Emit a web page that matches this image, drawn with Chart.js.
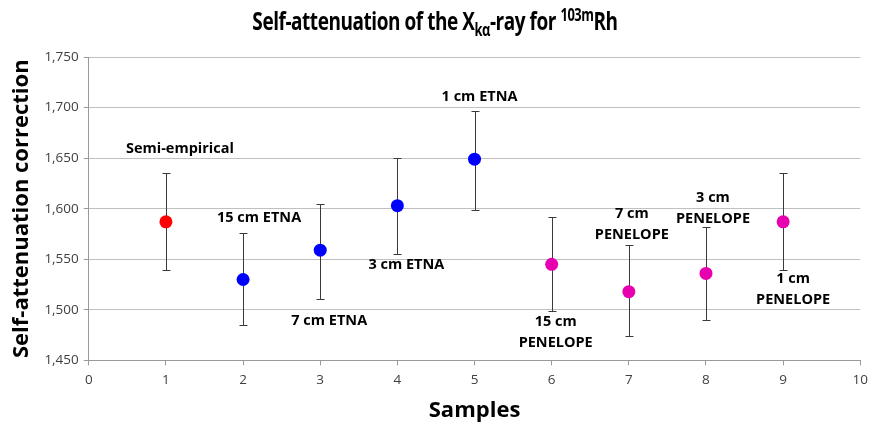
<!DOCTYPE html>
<html>
<head>
<meta charset="utf-8">
<script src="https://cdn.jsdelivr.net/npm/chart.js@4.4.0/dist/chart.umd.min.js"></script>
<style>
  html, body { margin: 0; padding: 0; background: #fff; overflow: hidden; }
  #wrap { position: relative; width: 870px; height: 427px; overflow: hidden; }
  #title {
    position: absolute; left: 0; top: 3px; width: 870px; text-align: center;
    font-family: "Open Sans", sans-serif; font-weight: bold; font-size: 25px; color: #000;
    letter-spacing: -0.6px; transform: scaleX(0.76); transform-origin: 435px 0;
  }
  #title sub, #title sup { font-size: 17px; }
  canvas { position: absolute; left: 0; top: 0; }
</style>
</head>
<body>
<div id="wrap">
  <canvas id="chart" width="875" height="427"></canvas>
  <div id="title">Self-attenuation of the X<sub>kα</sub>-ray for <sup>103m</sup>Rh</div>
</div>
<script>
// Dados
const samples = [1, 2, 3, 4, 5, 6, 7, 8, 9];
const corrections = [1.587, 1.530, 1.559, 1.603, 1.649, 1.545, 1.518, 1.536, 1.587];
const errUpper = [1.635, 1.576, 1.605, 1.650, 1.697, 1.592, 1.564, 1.582, 1.635];
const errLower = [1.539, 1.485, 1.511, 1.555, 1.599, 1.499, 1.474, 1.490, 1.539];
const methods = ['semi', 'etna', 'etna', 'etna', 'etna', 'penelope', 'penelope', 'penelope', 'penelope'];
const pointLabels = [
    ['Semi-empirical'],
    ['15 cm ETNA'],
    ['7 cm ETNA'],
    ['3 cm ETNA'],
    ['1 cm ETNA'],
    ['15 cm', 'PENELOPE'],
    ['7 cm', 'PENELOPE'],
    ['3 cm', 'PENELOPE'],
    ['1 cm', 'PENELOPE']
];
const yTicks = [1.45, 1.50, 1.55, 1.60, 1.65, 1.70, 1.75];

// Cores por método
const methodColors = { semi: '#ff0000', etna: '#0000ff', penelope: '#e600b0' };

// Posição dos rótulos em relação ao ponto (px): [dx, dy da primeira linha]
const labelOffsets = [
    [14, -73], [16, -62], [9, 71], [9, 59], [5, -62],
    [4, 58], [3, -78], [7, -76], [10, 57]
];

const errorBarsPlugin = {
    id: 'errorBars',
    beforeDatasetsDraw(chart) {
        const ctx = chart.ctx;
        const xs = chart.scales.x, ys = chart.scales.y;
        ctx.save();
        ctx.strokeStyle = '#3a3a3a';
        ctx.lineWidth = 1;
        samples.forEach((s, i) => {
            const x = Math.round(xs.getPixelForValue(s)) + 0.5;
            const yt = Math.round(ys.getPixelForValue(errUpper[i])) + 0.5;
            const yb = Math.round(ys.getPixelForValue(errLower[i])) + 0.5;
            ctx.beginPath();
            ctx.moveTo(x, yt); ctx.lineTo(x, yb);
            ctx.moveTo(x - 4, yt); ctx.lineTo(x + 4, yt);
            ctx.moveTo(x - 4, yb); ctx.lineTo(x + 4, yb);
            ctx.stroke();
        });
        ctx.restore();
    },
    afterDraw(chart) {
        const ctx = chart.ctx;
        const xs = chart.scales.x, ys = chart.scales.y;
        ctx.save();
        ctx.fillStyle = '#000';
        ctx.font = 'bold 14.5px "Open Sans", sans-serif';
        ctx.textAlign = 'center';
        ctx.textBaseline = 'middle';
        samples.forEach((s, i) => {
            const x = xs.getPixelForValue(s) + labelOffsets[i][0];
            const y = ys.getPixelForValue(corrections[i]) + labelOffsets[i][1];
            pointLabels[i].forEach((line, k) => ctx.fillText(line, x, y + k * 21));
        });
        ctx.restore();
    }
};

const ctx = document.getElementById('chart').getContext('2d');
new Chart(ctx, {
    type: 'scatter',
    data: {
        datasets: [{
            label: 'Self-attenuation correction',
            data: samples.map((s, i) => ({ x: s, y: corrections[i] })),
            pointRadius: 6.5,
            pointHoverRadius: 6.5,
            pointBorderWidth: 0,
            pointBackgroundColor: methods.map(m => methodColors[m]),
            pointBorderColor: methods.map(m => methodColors[m])
        }]
    },
    options: {
        responsive: false,
        animation: false,
        layout: { padding: { top: 57, right: 0, left: 9, bottom: 3 } },
        plugins: {
            legend: { display: false },
            tooltip: { enabled: false }
        },
        scales: {
            x: {
                type: 'linear',
                min: 0,
                max: 10,
                ticks: {
                    stepSize: 1,
                    color: '#404040',
                    font: { family: '"Open Sans", sans-serif', size: 13.5 },
                    padding: 7
                },
                grid: {
                    display: true,
                    drawOnChartArea: false,
                    drawTicks: true,
                    tickLength: 5,
                    color: '#9a9a9a'
                },
                border: { color: '#9a9a9a' },
                title: {
                    display: true,
                    text: 'Samples',
                    color: '#000',
                    font: { family: '"Open Sans", sans-serif', size: 22, weight: 'bold' },
                    padding: { top: 2, bottom: 0 }
                }
            },
            y: {
                min: 1.45,
                max: 1.75,
                afterBuildTicks(axis) {
                    axis.ticks = yTicks.map(v => ({ value: v }));
                },
                ticks: {
                    color: '#404040',
                    font: { family: '"Open Sans", sans-serif', size: 13.5 },
                    padding: 5,
                    callback: v => v.toFixed(3).replace('.', ',')
                },
                grid: {
                    color: '#c0c0c0',
                    tickLength: 5,
                    tickColor: '#9a9a9a'
                },
                border: { color: '#9a9a9a' },
                title: {
                    display: true,
                    text: 'Self-attenuation correction',
                    color: '#000',
                    font: { family: '"Open Sans", sans-serif', size: 22, weight: 'bold' },
                    padding: { top: 0, bottom: 4 }
                }
            }
        }
    },
    plugins: [errorBarsPlugin]
});
</script>
</body>
</html>
